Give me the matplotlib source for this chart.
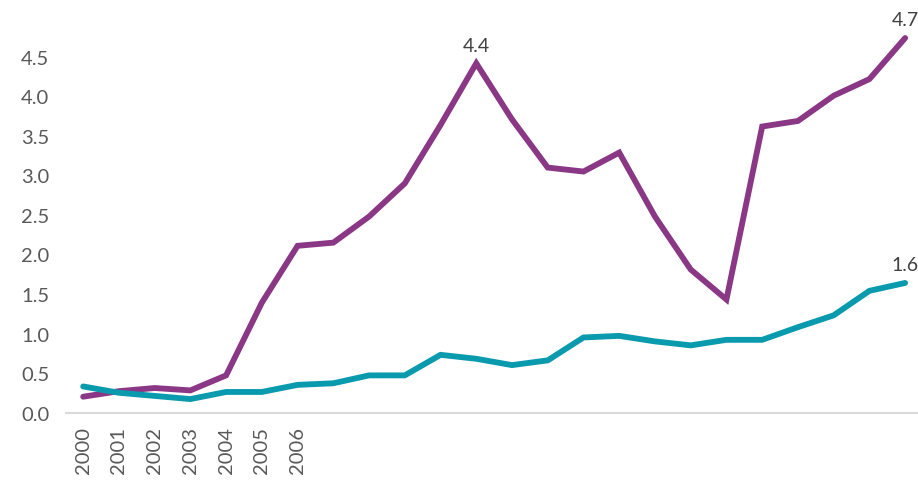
import numpy as np
import matplotlib.pyplot as plt

plt.rcParams['font.family'] = ['Lato', 'DejaVu Sans']

# Daten
years = list(range(2000, 2024))
purple_vals = [0.20, 0.27, 0.31, 0.28, 0.47, 1.39, 2.11, 2.15, 2.48, 2.90,
               3.64, 4.42, 3.71, 3.10, 3.05, 3.29, 2.48, 1.81, 1.43, 3.62,
               3.69, 4.01, 4.22, 4.74]
teal_vals = [0.33, 0.25, 0.21, 0.17, 0.26, 0.26, 0.35, 0.37, 0.47, 0.47,
             0.73, 0.68, 0.60, 0.66, 0.95, 0.97, 0.90, 0.85, 0.92, 0.92,
             1.08, 1.23, 1.54, 1.64]
shown_years = [2000, 2001, 2002, 2003, 2004, 2005, 2006]
yticks = [0.0, 0.5, 1.0, 1.5, 2.0, 2.5, 3.0, 3.5, 4.0, 4.5]

purple = '#8a3786'
teal = '#0a9aad'

fig = plt.figure(figsize=(9.18, 4.85), dpi=100)
ax = fig.add_axes([0.0719, 0.1474, 0.9281, 0.8145])

ax.plot(years, purple_vals, color=purple, linewidth=4.2, solid_joinstyle='miter',
        solid_capstyle='round', zorder=3)
ax.plot(years, teal_vals, color=teal, linewidth=4.2, solid_joinstyle='miter',
        solid_capstyle='round', zorder=3)

# Beschriftungen
i_max = int(np.argmax(purple_vals[:15]))
for x, y in [(years[i_max], purple_vals[i_max]),
             (years[-1], purple_vals[-1]),
             (years[-1], teal_vals[-1])]:
    ax.annotate(f'{y:.1f}', (x, y), xytext=(0, 7), textcoords='offset points',
                ha='center', va='bottom', fontsize=14, color='#404040')

ax.set_xlim(1999.52, 2023.36)
ax.set_ylim(0, 5.0)
ax.set_yticks(yticks)
ax.set_yticklabels([f'{v:.1f}' for v in yticks])
ax.set_xticks(shown_years)
ax.set_xticklabels([str(y) for y in shown_years], rotation=90)

for s in ['top', 'right', 'left']:
    ax.spines[s].set_visible(False)
ax.spines['bottom'].set_color('#d9d9d9')
ax.spines['bottom'].set_linewidth(1.5)
ax.tick_params(axis='both', length=0, labelsize=14.5, colors='#595959')
ax.tick_params(axis='y', pad=12)
ax.tick_params(axis='x', pad=10)

fig.savefig('out.png', dpi=100)
